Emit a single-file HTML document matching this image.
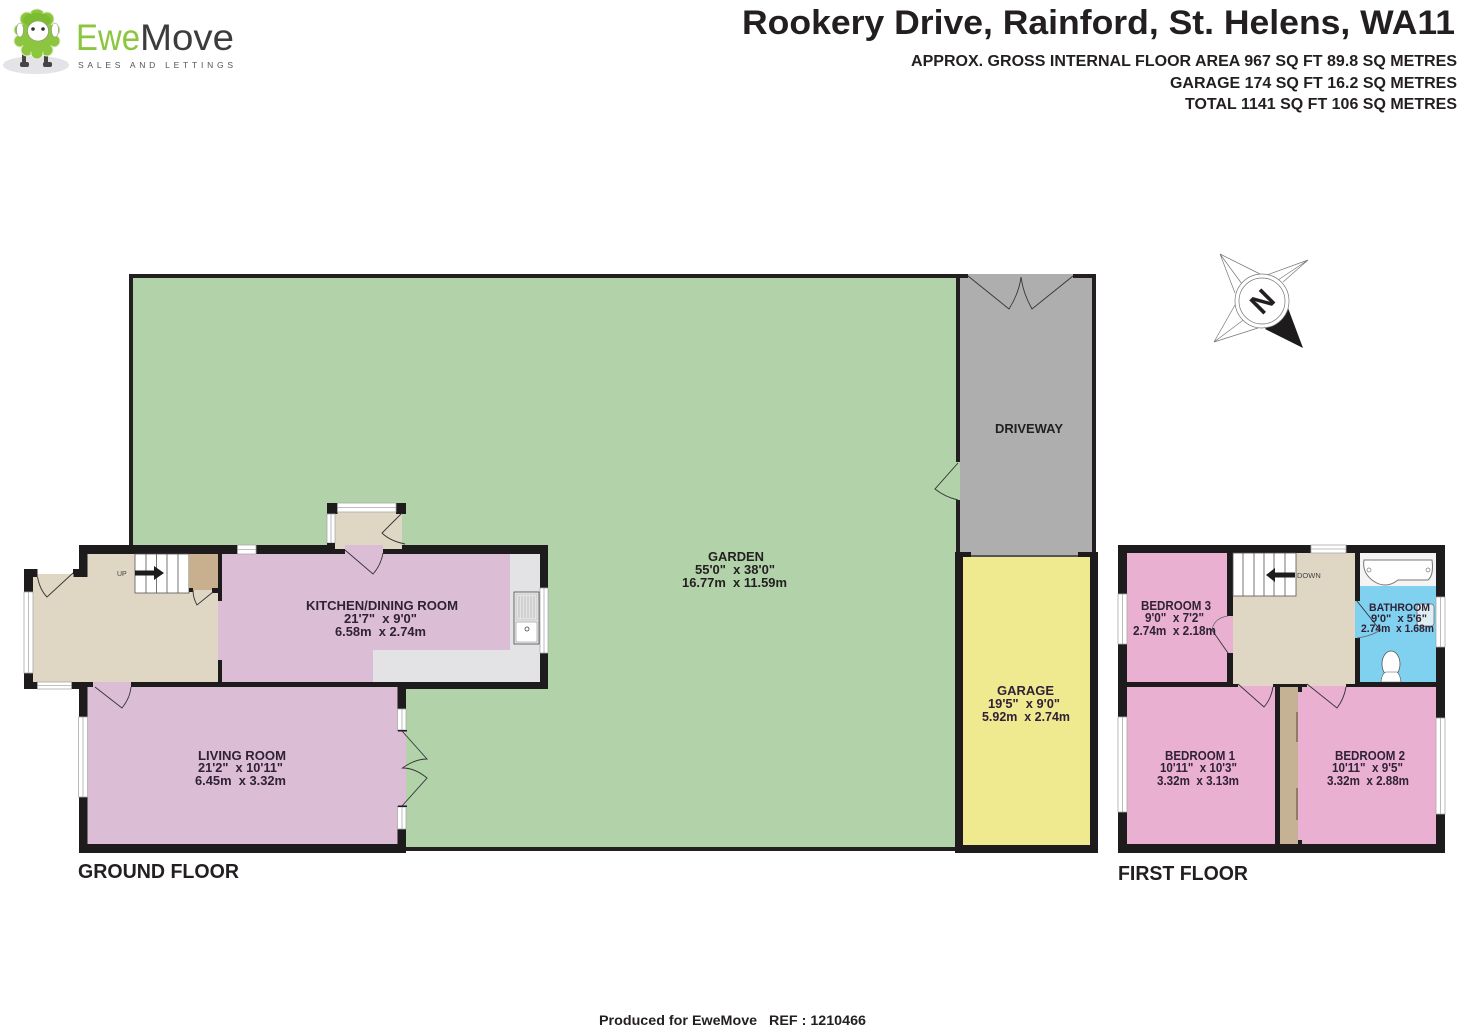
<!DOCTYPE html>
<html><head><meta charset="utf-8"><title>Rookery Drive floor plan</title>
<style>
html,body{margin:0;padding:0;background:#fff}
svg{display:block}
text{font-family:"Liberation Sans",sans-serif;font-weight:bold;white-space:pre}
.t{fill:#231f20}
.r{fill:#2f2237;font-size:12.5px}
.d{fill:none;stroke:#333;stroke-width:.9}
.a{fill:none;stroke:#666;stroke-width:.8}
.w{fill:#fff;stroke:#aaa;stroke-width:.8}
.k{fill:#1d1b1c}
.s{stroke:#555;stroke-width:.8}
</style></head><body>
<svg width="1462" height="1028" viewBox="0 0 1462 1028" xmlns="http://www.w3.org/2000/svg">
<rect width="1462" height="1028" fill="#fff"/>

<!-- logo -->
<ellipse cx="36" cy="65" rx="33" ry="9" fill="#e4e4e8"/>
<rect x="22" y="52" width="4" height="12" fill="#444"/><rect x="44" y="52" width="4" height="12" fill="#444"/>
<rect x="20" y="62" width="9" height="5" rx="2" fill="#444"/><rect x="43" y="62" width="9" height="5" rx="2" fill="#444"/>
<g fill="#8cc63f" stroke="#e6eecd" stroke-width="1">
<circle cx="37" cy="18" r="9"/><circle cx="27" cy="19" r="7"/><circle cx="47" cy="19" r="7"/>
<circle cx="20" cy="30" r="6"/><circle cx="54" cy="30" r="6"/>
<circle cx="20" cy="41" r="6"/><circle cx="54" cy="41" r="6"/>
<circle cx="27" cy="50" r="6"/><circle cx="47" cy="50" r="6"/><circle cx="37" cy="53" r="6"/>
</g>
<ellipse cx="37" cy="35" rx="17" ry="18" fill="#8cc63f"/>
<ellipse cx="37" cy="20" rx="14" ry="7" fill="#7dbb30"/>
<ellipse cx="38" cy="31" rx="10.500" ry="10" fill="#fff" stroke="#888" stroke-width=".6"/>
<ellipse cx="20" cy="30" rx="3.500" ry="7" fill="#fff" stroke="#888" stroke-width=".5"/>
<ellipse cx="55" cy="30" rx="3.500" ry="7" fill="#fff" stroke="#888" stroke-width=".5"/>
<circle cx="33" cy="29" r="1.800" fill="#333"/><circle cx="43" cy="29" r="1.800" fill="#333"/>
<text x="76" y="50" font-size="37" textLength="64" lengthAdjust="spacingAndGlyphs" style="font-weight:normal" fill="#8cc63f">Ewe</text>
<text x="140" y="50" font-size="37" textLength="94" lengthAdjust="spacingAndGlyphs" style="font-weight:normal" fill="#3c3c3e">Move</text>
<text x="78" y="68" font-size="8.500" textLength="155" style="font-weight:normal" fill="#555">SALES AND LETTINGS</text>

<!-- heading -->
<text class="t" x="742" y="34" font-size="34" textLength="713" lengthAdjust="spacingAndGlyphs">Rookery Drive, Rainford, St. Helens, WA11</text>
<text class="t" x="911" y="66" font-size="16" textLength="546" lengthAdjust="spacingAndGlyphs">APPROX. GROSS INTERNAL FLOOR AREA 967 SQ FT 89.8 SQ METRES</text>
<text class="t" x="1170" y="88" font-size="16" textLength="287" lengthAdjust="spacingAndGlyphs">GARAGE 174 SQ FT 16.2 SQ METRES</text>
<text class="t" x="1185" y="109" font-size="16" textLength="272" lengthAdjust="spacingAndGlyphs">TOTAL 1141 SQ FT 106 SQ METRES</text>

<!-- compass -->
<g>
<path d="M1220,254L1260,274M1220,254L1235,293M1220,254L1242,284M1308,260L1267,275M1308,260L1283,282M1308,260L1278,280M1214,342L1235,305M1214,342L1258,328M1214,342L1246,318" fill="none" stroke="#777" stroke-width=".7"/>
<polygon points="1288,308 1303,348 1265,329" fill="#1d1b1c"/>
<circle cx="1262" cy="301" r="27" fill="#fff" stroke="#777" stroke-width=".7"/>
<circle cx="1262" cy="301" r="23" fill="#fff" stroke="#777" stroke-width=".7"/>
<text x="0" y="0" font-size="29" fill="#231f20" text-anchor="middle" transform="translate(1262,301) rotate(-45) translate(0,10.500)">N</text>
</g>

<!-- garden -->
<rect x="129" y="274" width="830" height="577" fill="#231f20"/>
<rect x="133" y="278" width="823" height="569" fill="#b2d2aa"/>
<!-- driveway -->
<rect x="956" y="274" width="140" height="282" fill="#231f20"/>
<rect x="960" y="278" width="132" height="278" fill="#aeaeae"/>
<rect x="968" y="274" width="105" height="4" fill="#aeaeae"/>
<rect x="956" y="462" width="4" height="38" fill="#b2d2aa"/>
<path class="d" d="M958,463L935,489Q945,497 958,500"/>
<path class="d" d="M968,276L1009,309Q1019,293 1021,277Q1023,293 1032,309L1073,276"/>
<!-- garage -->
<rect x="955" y="552" width="143" height="301" fill="#1d1b1c"/>
<rect x="963" y="557" width="127" height="288" fill="#efe98f"/>
<rect x="971" y="552" width="107" height="5" fill="#aeaeae"/>
<rect x="971" y="555" width="107" height="2" fill="#555"/>

<!-- ground floor walls -->
<path class="k" d="M79,545H548V689H406V853H79V689H24V569H37V569H73V569H79Z"/>
<!-- hall -->
<path d="M87.500,554H218V682H33V577H87.500Z" fill="#dfd6c4"/>
<rect x="24" y="545" width="55" height="24" fill="#fff"/>
<rect x="24" y="569" width="13.500" height="23" class="k"/>
<rect x="73" y="569" width="14.500" height="8" class="k"/>
<rect x="37.500" y="569" width="35.500" height="8" fill="#fff"/>
<rect x="37.500" y="574" width="36" height="3" fill="#dfd6c4"/>
<rect x="33" y="577" width="40" height="15" fill="#dfd6c4"/>
<path class="d" d="M73,573L47,597Q40,590 37.500,577"/>
<!-- hall left + bottom windows -->
<rect x="24" y="592" width="9" height="81" class="w"/>
<line x1="28.500" y1="592" x2="28.500" y2="673" stroke="#aaa" stroke-width=".8"/>
<rect x="37.500" y="682" width="34" height="7" class="w"/>
<line x1="37.500" y1="685.500" x2="71.500" y2="685.500" stroke="#aaa" stroke-width=".8"/>
<!-- stairs + cupboard -->
<rect x="135" y="554" width="54" height="39" fill="#fff" stroke="#555" stroke-width=".8"/>
<path class="s" d="M146,554V593M156.500,554V593M167,554V593M178,554V593"/>
<rect x="135" y="570.500" width="20" height="5" class="k"/><polygon points="154,566 164,573 154,580" class="k"/>
<text x="117" y="576" font-size="7" style="font-weight:normal" fill="#444">UP</text>
<rect x="189" y="554" width="29" height="36" fill="#c8b08e"/>
<rect x="189" y="588" width="4" height="4" class="k"/><rect x="212" y="588" width="6" height="5" class="k"/>
<path class="d" d="M213,592L197,605Q193,598 193,590"/>
<!-- kitchen -->
<rect x="218" y="554" width="4" height="47" class="k"/><rect x="218" y="660" width="4" height="22" class="k"/>
<rect x="222" y="554" width="318" height="128" fill="#e3e3e6"/>
<path d="M222,554H510V650H373V682H222Z" fill="#dcbdd6"/>
<rect x="218" y="601" width="4" height="59" fill="#dcbdd6"/>
<rect x="237.500" y="545" width="18.500" height="9" class="w"/><line x1="237.500" y1="549.500" x2="256" y2="549.500" stroke="#aaa" stroke-width=".8"/>
<rect x="540" y="588" width="8" height="65" class="w"/><line x1="544" y1="588" x2="544" y2="653" stroke="#aaa" stroke-width=".8"/>
<!-- sink -->
<rect x="514" y="592" width="25" height="52" fill="#eee" stroke="#444" stroke-width=".8"/>
<rect x="516" y="594" width="21" height="26" fill="#e4e4e4" stroke="#999" stroke-width=".4"/>
<path d="M519,596V618M522,596V618M525,596V618M528,596V618M531,596V618M534,596V618" stroke="#aaa" stroke-width=".7"/>
<rect x="516" y="622" width="21" height="20" fill="#fff" stroke="#777" stroke-width=".5"/>
<circle cx="527" cy="629" r="2" fill="none" stroke="#444" stroke-width=".8"/>
<!-- kitchen back porch -->
<rect x="335" y="512" width="67" height="37" fill="#dfd6c4"/>
<rect x="345" y="545" width="38" height="9" fill="#dcbdd6"/>
<rect x="327" y="503" width="10.500" height="11" class="k"/><rect x="396" y="503" width="10" height="11" class="k"/>
<rect x="337.500" y="503" width="58.500" height="9" class="w"/><line x1="337.500" y1="507.500" x2="396" y2="507.500" stroke="#aaa" stroke-width=".8"/>
<rect x="327" y="514" width="8" height="29" class="w"/><line x1="331" y1="514" x2="331" y2="543" stroke="#aaa" stroke-width=".8"/>
<rect x="327" y="543" width="8" height="3" class="k"/>
<path class="d" d="M345,550L373,574Q381,565 383,553"/>
<path class="d" d="M402,513L382,533Q390,541 405,544"/>
<!-- living -->
<rect x="87.500" y="687" width="310" height="157" fill="#dcbdd6"/>
<rect x="93" y="682" width="38" height="6" fill="#dcbdd6"/>
<rect x="78.600" y="717" width="9" height="80" class="w"/><line x1="83" y1="717" x2="83" y2="797" stroke="#aaa" stroke-width=".8"/>
<rect x="397.500" y="709" width="8.500" height="21" class="w"/><line x1="402" y1="709" x2="402" y2="730" stroke="#aaa" stroke-width=".8"/>
<rect x="397.500" y="807" width="8.500" height="22" class="w"/><line x1="402" y1="807" x2="402" y2="829" stroke="#aaa" stroke-width=".8"/>
<rect x="397.500" y="731" width="8.500" height="75" fill="#dcbdd6"/>
<rect x="398" y="730" width="9" height="1.500" class="k"/><rect x="398" y="805.500" width="9" height="1.500" class="k"/>
<path class="d" d="M402,731L427,759Q415,759 402.500,768Q415,768 427,778L402,806"/>
<path class="d" d="M95,687L122,708Q130,698 131,687"/>

<!-- first floor -->
<rect x="1118" y="545" width="327" height="308" class="k"/>
<rect x="1127" y="553" width="100" height="129" fill="#eab0d2"/>
<rect x="1233" y="553" width="122" height="131" fill="#dfd6c4"/>
<rect x="1227" y="616" width="6" height="37" fill="#eab0d2"/>
<rect x="1360" y="553" width="76" height="129" fill="#80d0ef"/>
<rect x="1355" y="601" width="5" height="37" fill="#80d0ef"/>
<rect x="1360" y="553" width="76" height="33" fill="#f4f4f4"/>
<path d="M1364,560H1432Q1434,575 1428,580H1398Q1385,590 1372,580Q1362,572 1364,560Z" fill="#fff" stroke="#777" stroke-width="1"/>
<circle cx="1369" cy="570" r="2" fill="none" stroke="#777" stroke-width=".7"/><circle cx="1428" cy="570" r="2" fill="none" stroke="#777" stroke-width=".7"/>
<rect x="1417" y="604" width="17" height="22" rx="3" fill="#dfeef2" stroke="#666" stroke-width=".7"/>
<ellipse cx="1391" cy="664" rx="9" ry="13" fill="#fff" stroke="#555" stroke-width=".8"/>
<path d="M1381,682Q1382,673 1386,672H1397Q1400,674 1401,682Z" fill="#fff" stroke="#555" stroke-width=".6"/>
<rect x="1127" y="687" width="148" height="157" fill="#eab0d2"/>
<rect x="1280" y="687" width="18" height="157" fill="#c5b294"/>
<rect x="1302" y="687" width="134" height="157" fill="#eab0d2"/>
<rect x="1298" y="692" width="4" height="148" fill="#eab0d2"/>
<path d="M1297,712V742M1297,788V820" stroke="#6a5a44" stroke-width="1.200"/>
<rect x="1238" y="682" width="35" height="6" fill="#dfd6c4"/><rect x="1238" y="686" width="35" height="2" fill="#eab0d2"/>
<rect x="1307" y="682" width="39" height="6" fill="#dfd6c4"/><rect x="1307" y="686" width="39" height="2" fill="#eab0d2"/>
<path class="d" d="M1238,684L1264,707Q1271,699 1273,687"/>
<path class="d" d="M1307,684L1337,708Q1344,699 1346,687"/>
<path class="d" d="M1228,653L1212,630"/><path class="a" d="M1212,630Q1214,618 1228,616"/>
<path class="d" d="M1357,601L1380,630"/><path class="a" d="M1380,630Q1372,636 1357,638"/>
<rect x="1233" y="553" width="63" height="43" fill="#fff" stroke="#555" stroke-width=".8"/>
<path class="s" d="M1243,553V596M1254,553V596M1264,553V596M1274,553V596M1285,553V596"/>
<rect x="1274" y="572.500" width="21" height="5" class="k"/><polygon points="1275,568 1266,575 1275,582" class="k"/>
<text x="1297" y="578" font-size="7.500" style="font-weight:normal" fill="#444">DOWN</text>
<rect x="1311" y="545" width="35" height="8" class="w"/><line x1="1311" y1="549" x2="1346" y2="549" stroke="#aaa" stroke-width=".8"/>
<rect x="1118" y="594" width="9" height="50" class="w"/><line x1="1122.500" y1="594" x2="1122.500" y2="644" stroke="#aaa" stroke-width=".8"/>
<rect x="1118" y="717" width="9" height="95" class="w"/><line x1="1122.500" y1="717" x2="1122.500" y2="812" stroke="#aaa" stroke-width=".8"/>
<rect x="1436" y="597" width="9" height="50" class="w"/><line x1="1440.500" y1="597" x2="1440.500" y2="647" stroke="#aaa" stroke-width=".8"/>
<rect x="1436" y="718" width="9" height="96" class="w"/><line x1="1440.500" y1="718" x2="1440.500" y2="814" stroke="#aaa" stroke-width=".8"/>

<!-- labels -->
<text class="t" x="78" y="878" font-size="20" textLength="161" lengthAdjust="spacingAndGlyphs">GROUND FLOOR</text>
<text class="t" x="1118" y="880" font-size="20" textLength="130" lengthAdjust="spacingAndGlyphs">FIRST FLOOR</text>
<text class="t" x="599" y="1025" font-size="13.500" textLength="267" lengthAdjust="spacingAndGlyphs">Produced for EweMove   REF : 1210466</text>
<text class="t" x="995" y="433" font-size="12.500" textLength="68" lengthAdjust="spacingAndGlyphs">DRIVEWAY</text>

<g text-anchor="start">
<text class="t" style="font-size:12.500px" x="708" y="561" textLength="56" lengthAdjust="spacingAndGlyphs">GARDEN</text>
<text class="t" style="font-size:12.500px" x="695" y="574" textLength="80" lengthAdjust="spacingAndGlyphs">55'0"  x 38'0"</text>
<text class="t" style="font-size:12.500px" x="682" y="587" textLength="105" lengthAdjust="spacingAndGlyphs">16.77m  x 11.59m</text>

<text class="r" x="306" y="610" textLength="152" lengthAdjust="spacingAndGlyphs">KITCHEN/DINING ROOM</text>
<text class="r" x="344" y="623" textLength="73" lengthAdjust="spacingAndGlyphs">21'7"  x 9'0"</text>
<text class="r" x="335" y="636" textLength="91" lengthAdjust="spacingAndGlyphs">6.58m  x 2.74m</text>

<text class="r" x="198" y="760" textLength="88" lengthAdjust="spacingAndGlyphs">LIVING ROOM</text>
<text class="r" x="198" y="772" textLength="85" lengthAdjust="spacingAndGlyphs">21'2"  x 10'11"</text>
<text class="r" x="195" y="785" textLength="91" lengthAdjust="spacingAndGlyphs">6.45m  x 3.32m</text>

<text class="r" x="997" y="695" textLength="57" lengthAdjust="spacingAndGlyphs">GARAGE</text>
<text class="r" x="988" y="708" textLength="72" lengthAdjust="spacingAndGlyphs">19'5"  x 9'0"</text>
<text class="r" x="982" y="721" textLength="88" lengthAdjust="spacingAndGlyphs">5.92m  x 2.74m</text>

<text class="r" x="1141" y="610" textLength="70" lengthAdjust="spacingAndGlyphs">BEDROOM 3</text>
<text class="r" x="1145" y="622" textLength="59" lengthAdjust="spacingAndGlyphs">9'0"  x 7'2"</text>
<text class="r" x="1133" y="635" textLength="83" lengthAdjust="spacingAndGlyphs">2.74m  x 2.18m</text>

<text class="r" style="font-size:11px" x="1369" y="611" textLength="61" lengthAdjust="spacingAndGlyphs">BATHROOM</text>
<text class="r" style="font-size:11px" x="1371" y="622" textLength="56" lengthAdjust="spacingAndGlyphs">9'0"  x 5'6"</text>
<text class="r" style="font-size:11px" x="1361" y="632" textLength="73" lengthAdjust="spacingAndGlyphs">2.74m  x 1.68m</text>

<text class="r" x="1165" y="760" textLength="70" lengthAdjust="spacingAndGlyphs">BEDROOM 1</text>
<text class="r" x="1160" y="772" textLength="77" lengthAdjust="spacingAndGlyphs">10'11"  x 10'3"</text>
<text class="r" x="1157" y="785" textLength="82" lengthAdjust="spacingAndGlyphs">3.32m  x 3.13m</text>

<text class="r" x="1335" y="760" textLength="70" lengthAdjust="spacingAndGlyphs">BEDROOM 2</text>
<text class="r" x="1332" y="772" textLength="71" lengthAdjust="spacingAndGlyphs">10'11"  x 9'5"</text>
<text class="r" x="1327" y="785" textLength="82" lengthAdjust="spacingAndGlyphs">3.32m  x 2.88m</text>
</g>
</svg>
</body></html>
